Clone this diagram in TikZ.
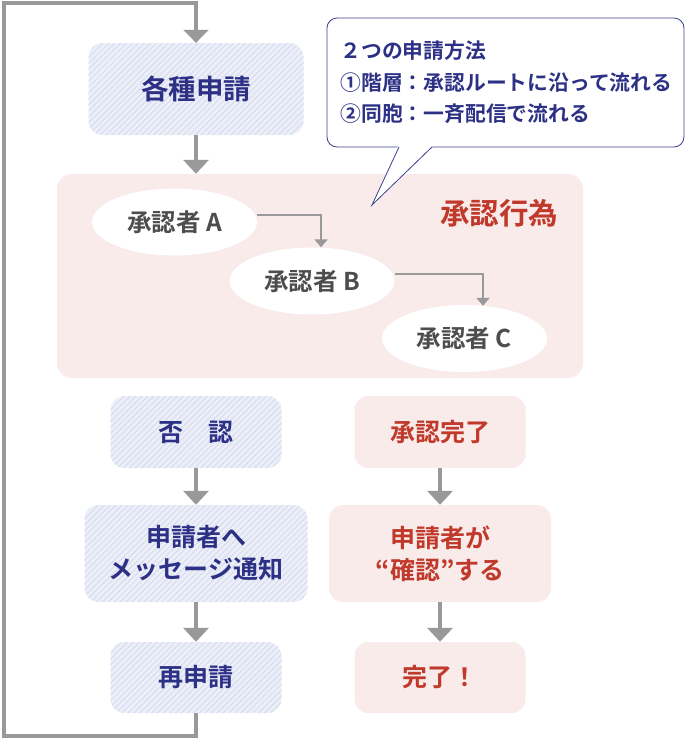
\documentclass[tikz,border=0pt]{standalone}
\usepackage{fontspec}
\setmainfont{Noto Sans CJK JP}[BoldFont={Noto Sans CJK JP Bold}]
\usetikzlibrary{shapes.geometric,arrows.meta,patterns.meta}
\definecolor{navy}{HTML}{2D3186}
\definecolor{redtxt}{HTML}{C0392B}
\definecolor{graytxt}{HTML}{4D4D4D}
\definecolor{arrowgray}{HTML}{999999}
\definecolor{pinkfill}{HTML}{F8EBEA}
\definecolor{bluefill}{HTML}{EDEFF8}
\definecolor{bluehatch}{HTML}{D6DCF0}
\definecolor{calloutline}{HTML}{3B3F8F}
\tikzset{
  bluebox/.style={rectangle, rounded corners=14, fill=bluefill,
    postaction={pattern={Lines[angle=45,distance=4.2pt,line width=1pt]}, pattern color=bluehatch},
    text=navy, font=\bfseries\fontsize{25}{32}\selectfont, align=center, inner sep=0},
  pinkbox/.style={rectangle, rounded corners=14, fill=pinkfill,
    text=redtxt, font=\bfseries\fontsize{25}{32}\selectfont, align=center, inner sep=0},
  region/.style={rectangle, rounded corners=15, fill=pinkfill, inner sep=0},
  approver/.style={ellipse, fill=white, inner sep=0, minimum width=165, minimum height=67,
    text=graytxt, font=\bfseries\fontsize{24.5}{28}\selectfont},
  bigarrow/.style={draw=arrowgray, line width=4, -{Triangle[width=25pt,length=14pt]}},
  looparrow/.style={draw=arrowgray, line width=4, line join=miter, -{Triangle[width=25pt,length=13pt]}},
  smallarrow/.style={draw=arrowgray, line width=2, -{Triangle[width=13pt,length=8pt]}},
  callout/.style={rectangle, rounded corners=10, draw=calloutline, line width=0.8, fill=white,
    text=navy, font=\bfseries\fontsize{20.8}{31.5}\selectfont, align=left, text width=330,
    inner xsep=13.5, inner ysep=0, minimum width=357, minimum height=129},
  regiontitle/.style={text=redtxt, font=\bfseries\fontsize{29.5}{34}\selectfont, inner sep=0}
}
\begin{document}
\begin{tikzpicture}[x=1pt,y=-1pt]
\useasboundingbox (0,0) rectangle (685,740);

% region
\node[region, minimum width=526, minimum height=204] (region) at (320,276) {};
\node[regiontitle] (title) at (499,213) {承認行為};

% approvers
\node[approver] (A) at (174.5,222) {承認者 A};
\node[approver] (B) at (312,281) {承認者 B};
\node[approver] (C) at (464.5,338.5) {承認者 C};
\coordinate (Aout) at ([yshift=7]A.east);
\coordinate (Bin) at ([xshift=9]B.north);
\coordinate (Bout) at ([yshift=7]B.east);
\coordinate (Cin) at ([xshift=18.5,yshift=-1]C.north);
\draw[smallarrow] (Aout) -| (Bin);
\draw[smallarrow] (Bout) -| (Cin);

% top box
\node[bluebox, minimum width=215, minimum height=92, font=\bfseries\fontsize{27.5}{32}\selectfont] (kakushu) at (196,89) {各種申請};
\draw[bigarrow] (kakushu.south) -- (kakushu.south |- region.north);

% callout
\node[callout] (note) at (505.5,82.5) {２つの申請方法\\①階層：承認ルートに沿って流れる\\②同胞：一斉配信で流れる};
\coordinate (tailL) at (399,147);
\coordinate (tailR) at (432,147);
\coordinate (tailT) at (372,205);
\fill[white] (398,145.8) -- (tailT) -- (433,145.8) -- cycle;
\draw[calloutline, line width=0.8, line join=miter] (tailL) -- (tailT) -- (tailR);

% left column
\node[bluebox, minimum width=171, minimum height=72] (hinin) at (196,432) {否　認};
\node[bluebox, minimum width=223, minimum height=97] (tsuchi) at (196,553.5) {申請者へ\\メッセージ通知};
\node[bluebox, minimum width=171, minimum height=71] (saishin) at (196,677.5) {再申請};
\draw[bigarrow] (hinin.south) -- (tsuchi.north);
\draw[bigarrow] (tsuchi.south) -- (saishin.north);

% right column
\node[pinkbox, minimum width=171, minimum height=72] (shonin) at (440,432) {承認完了};
\node[pinkbox, minimum width=222, minimum height=97] (kakunin) at (440,553.5) {申請者が\\“確認”する};
\node[pinkbox, minimum width=171, minimum height=71] (kanryo) at (440,677.5) {完了！};
\draw[bigarrow] (shonin.south) -- (kakunin.north);
\draw[bigarrow] (kakunin.south) -- (kanryo.north);

% loop
\coordinate (lb) at (3.5,736);
\coordinate (lt) at (3.5,3);
\draw[looparrow] (saishin.south) |- (lb) -- (lt) -| (kakushu.north);
\end{tikzpicture}
\end{document}
